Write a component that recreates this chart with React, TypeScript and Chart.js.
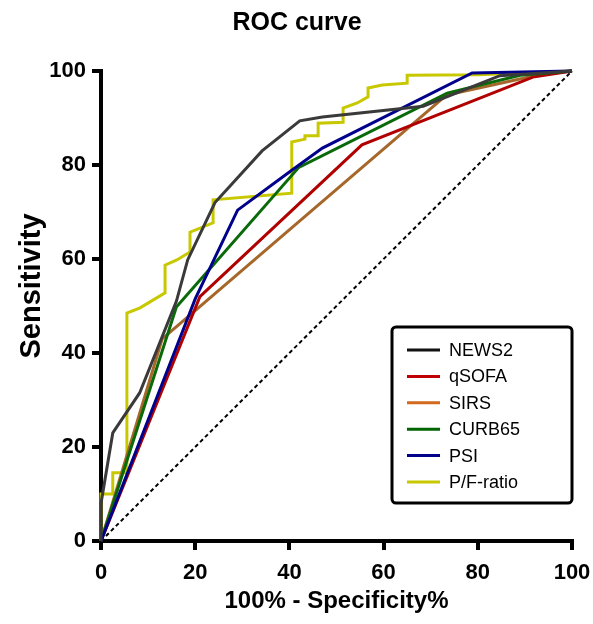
import { useEffect, useRef } from "react";
import { Chart, registerables } from "chart.js";

Chart.register(...registerables);

const TITLE = "ROC curve";
const X_TITLE = "100% - Specificity%";
const Y_TITLE = "Sensitivity";
const AXIS_MIN = 0;
const AXIS_MAX = 100;
const AXIS_STEP = 20;

const seriesNames = ["NEWS2", "qSOFA", "SIRS", "CURB65", "PSI", "P/F-ratio"];
const lineColors = ["#3a3a3a", "#b00000", "#a5682a", "#0a6a0a", "#00008b", "#c8c800"];
const legendColors = ["#111111", "#c00000", "#d2691e", "#006400", "#00008b", "#c8c800"];
const drawOrder = [1, 4, 5, 3, 2, 6];

const news2X = [0, 0, 2.5, 8.2, 16, 18.4, 24.2, 34.2, 42.2, 47, 68.4, 84.7, 100];
const news2Y = [0, 8, 23, 31.5, 51, 59.8, 72, 83, 89.4, 90.2, 92.5, 99, 100];

const qsofaX = [0, 21, 55.4, 91.7, 100];
const qsofaY = [0, 52, 84.3, 98.7, 100];

const sirsX = [0, 13, 73.4, 92.6, 100];
const sirsY = [0, 43, 94.9, 99.1, 100];

const curb65X = [0, 16, 42, 73.5, 89, 100];
const curb65Y = [0, 49.8, 79.5, 95.3, 99.1, 100];

const psiX = [0, 20, 29, 40, 47, 78.8, 100];
const psiY = [0, 51.5, 70.4, 78.5, 83.6, 99.6, 100];

const pfX = [0, 0, 2.5, 2.5, 5.5, 5.5, 8.3, 13.6, 13.6, 16.1, 18.9, 18.9, 23.8, 23.8, 40.5, 40.5, 43.3, 43.3, 46.1, 46.1, 51.4, 51.4, 54.4, 56.7, 56.7, 59.7, 65, 65, 80, 100];
const pfY = [0, 10, 10, 14.5, 14.5, 48.5, 49.6, 52.8, 58.7, 59.8, 61.5, 65.7, 67.7, 72.6, 74, 84.9, 85.5, 86.2, 86.2, 88.9, 89.1, 92.1, 93.2, 94.5, 96.4, 97, 97.4, 99.1, 99.2, 100];

const refX = [0, 100];
const refY = [0, 100];

const seriesX = [news2X, qsofaX, sirsX, curb65X, psiX, pfX];
const seriesY = [news2Y, qsofaY, sirsY, curb65Y, psiY, pfY];

const FONT = '"Liberation Sans", Arial, Helvetica, sans-serif';

const toPoints = (xs: number[], ys: number[]) => xs.map((x, i) => ({ x, y: ys[i] }));

const titleAndLegend = {
  id: "titleAndLegend",
  afterDraw(chart: any) {
    const ctx = chart.ctx;
    ctx.save();
    // chart title
    ctx.fillStyle = "#000";
    ctx.font = `bold 25px ${FONT}`;
    ctx.textAlign = "center";
    ctx.textBaseline = "alphabetic";
    ctx.fillText(TITLE, 297, 30);

    // y axis title
    ctx.save();
    ctx.translate(40, 286);
    ctx.rotate(-Math.PI / 2);
    ctx.font = `bold 29px ${FONT}`;
    ctx.textAlign = "center";
    ctx.textBaseline = "alphabetic";
    ctx.fillText(Y_TITLE, 0, 0);
    ctx.restore();

    // legend box
    const bx = 392, by = 327, bw = 180, bh = 176;
    ctx.lineWidth = 3;
    ctx.strokeStyle = "#000";
    ctx.beginPath();
    if ((ctx as any).roundRect) (ctx as any).roundRect(bx, by, bw, bh, 4);
    else ctx.rect(bx, by, bw, bh);
    ctx.stroke();

    ctx.font = `18px ${FONT}`;
    ctx.textAlign = "left";
    ctx.textBaseline = "middle";
    seriesNames.forEach((name, i) => {
      const y = 350 + i * 26.4;
      ctx.strokeStyle = legendColors[i];
      ctx.lineWidth = 3;
      ctx.beginPath();
      ctx.moveTo(407, y);
      ctx.lineTo(440, y);
      ctx.stroke();
      ctx.fillStyle = "#000";
      ctx.fillText(name, 449, y + 1);
    });
    ctx.restore();
  },
};

export default function App() {
  const ref = useRef<HTMLCanvasElement | null>(null);

  useEffect(() => {
    if (!ref.current) return;
    const datasets: any[] = seriesNames.map((name, i) => ({
      label: name,
      data: toPoints(seriesX[i], seriesY[i]),
      borderColor: lineColors[i],
      backgroundColor: lineColors[i],
      borderWidth: 3,
      pointRadius: 0,
      tension: 0,
      fill: false,
      order: drawOrder[i],
      clip: 4,
    }));
    datasets.push({
      label: "Reference",
      data: toPoints(refX, refY),
      borderColor: "#000",
      borderWidth: 2,
      borderDash: [4, 3],
      pointRadius: 0,
      fill: false,
      order: 10,
      clip: 4,
    });

    const axisCommon = (isY: boolean) => ({
      type: "linear",
      min: AXIS_MIN,
      max: AXIS_MAX,
      border: { display: true, width: 4, color: "#000" },
      grid: {
        display: true,
        drawOnChartArea: false,
        drawTicks: true,
        tickLength: 9,
        color: "#000",
        lineWidth: 4,
      },
      ticks: {
        stepSize: AXIS_STEP,
        color: "#000",
        font: { family: FONT, size: 22, weight: "bold" },
        padding: isY ? 6 : 10,
        maxRotation: 0,
        autoSkip: false,
      },
    });

    const chart = new Chart(ref.current, {
      type: "line",
      data: { datasets },
      options: {
        animation: false,
        responsive: false,
        maintainAspectRatio: false,
        layout: { padding: { top: 71, right: 21, left: 0, bottom: 0 } },
        plugins: {
          legend: { display: false },
          title: { display: false },
          tooltip: { enabled: false },
        },
        scales: {
          x: {
            ...axisCommon(false),
            title: {
              display: true,
              text: X_TITLE,
              color: "#000",
              font: { family: FONT, size: 24, weight: "bold" },
              padding: { top: 0, bottom: 8 },
            },
            afterFit: (s: any) => {
              s.height = 83;
              s.paddingLeft = 0;
              s.paddingRight = 0;
            },
          },
          y: {
            ...axisCommon(true),
            title: { display: false, text: Y_TITLE },
            afterFit: (s: any) => {
              s.width = 101;
              s.paddingTop = 0;
              s.paddingBottom = 0;
            },
          },
        } as any,
      },
      plugins: [titleAndLegend],
    } as any);
    return () => chart.destroy();
  }, []);

  return (
    <div style={{ position: "fixed", left: 0, top: 0, width: 593, height: 624, background: "#fff" }}>
      <canvas ref={ref} width={593} height={624} style={{ width: 593, height: 624, display: "block" }} />
    </div>
  );
}
